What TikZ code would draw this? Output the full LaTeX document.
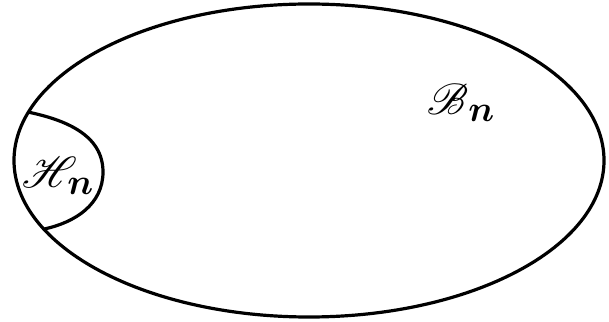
\documentclass[tikz,border=0pt]{standalone}
\usepackage{amsmath,amssymb}
\usepackage{mathrsfs}
\usepackage{bm}
\usetikzlibrary{positioning,calc}

\begin{document}
\begin{tikzpicture}[x=1pt,y=1pt,line width=3.2pt]
\useasboundingbox (0,0) rectangle (609,321);
% 集合の包含
\draw (309,160.5) ellipse (295 and 156.5);
\coordinate (hTop) at ($(309,160.5)+(162:295 and 156.5)$);
\coordinate (hBot) at ($(309,160.5)+(206:295 and 156.5)$);
\coordinate (hMid) at (103,149);
\draw (hTop) to[out=-12,in=90] (hMid) to[out=-90,in=12] (hBot);

\node[font=\Huge,scale=1.75,inner sep=0pt] (hn) at (58,145) {$\bm{\mathscr{H}}\mkern-4mu_{\bm{n}}$};
\node[font=\Huge,scale=1.75,inner sep=0pt] (bn) at (461,218) {$\bm{\mathscr{B}}_{\bm{n}}$};
\end{tikzpicture}
\end{document}
